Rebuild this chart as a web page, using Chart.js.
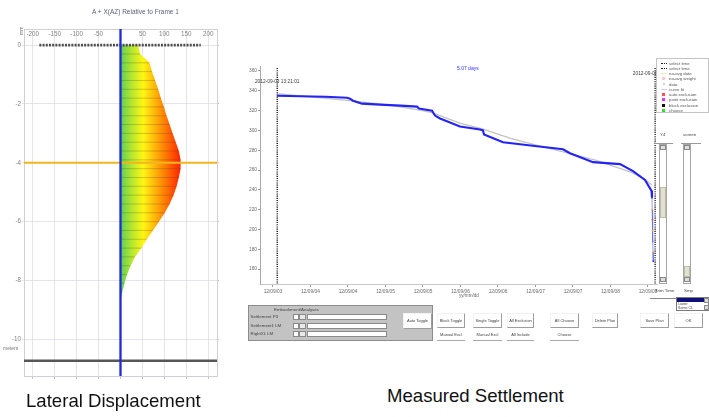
<!DOCTYPE html>
<html>
<head>
<meta charset="utf-8">
<script src="https://cdn.jsdelivr.net/npm/chart.js@4.4.1/dist/chart.umd.min.js"></script>
<style>
  html, body { margin:0; padding:0; background:#fff; width:709px; height:417px; overflow:hidden;
    font-family:"Liberation Sans", Arial, sans-serif; }
  canvas { position:absolute; }
  #lat { left:0; top:0; }
  #set { left:240px; top:55px; }
  .abs { position:absolute; white-space:nowrap; }
  .cap { font-size:18.6px; color:#111; line-height:1; }
  .tiny { font-size:4.4px; color:#444; line-height:1; }
  .small { font-size:6.5px; color:#5b6377; line-height:1; }
  #legend { left:656px; top:58px; width:53px; height:55px; border:1px solid #c4c4c4; background:#fff;
    box-sizing:border-box; padding-top:1.5px; }
  .li { position:relative; height:5.25px; line-height:5.25px; font-size:4.3px; color:#555; padding-left:12px; }
  .mk { position:absolute; left:4px; }
  .mk.dash { top:2.2px; width:6px; height:0; border-top:1px dotted #222; }
  .mk.ln { top:2.3px; width:6px; height:0.8px; }
  .mk.sq { top:1.2px; width:3px; height:3px; left:5px; }
  .mk.ci { top:0.8px; width:3.4px; height:3.4px; left:5px; border-radius:50%; box-sizing:border-box; border:0.8px solid #f29a9a; }
  .panel { left:248px; top:305px; width:185px; height:36px; background:#c3c3c3; border:1px solid #8d8d8d; box-sizing:border-box; }
  .btn { position:absolute; background:#fff; border-right:1px solid #9d9d9d; border-bottom:1px solid #9d9d9d;
    border-top:1px solid #f2f2f2; border-left:1px solid #f2f2f2; box-sizing:border-box;
    font-size:4px; color:#444; text-align:center; }
  .flat { position:absolute; background:#fff; border-bottom:1px solid #a9a9a9; box-sizing:border-box;
    font-size:4px; color:#444; text-align:center; }
  .field { position:absolute; background:#fff; border:1px solid #8a8a8a; box-sizing:border-box; }
  .spin { position:absolute; background:#e9e9e9; border:1px solid #8a8a8a; box-sizing:border-box; }
  .track { position:absolute; background:#fff; border:1px solid #a5a5a5; box-sizing:border-box; }
  .thumb { position:absolute; background:#e2e1cf; border:1px solid #bdbcaa; box-sizing:border-box; }
  .arr { position:absolute; background:#dcdcdc; border:1px solid #8a8a8a; box-sizing:border-box; }
</style>
</head>
<body>
<canvas id="lat" width="230" height="385"></canvas>
<canvas id="set" width="430" height="245"></canvas>

<!-- lateral displacement annotations -->
<div class="abs small" style="left:92px;top:8.5px;">A + X(AZ) Relative to Frame 1</div>
<div class="abs tiny" style="left:18.5px;top:35px;font-size:5px;color:#777;transform:rotate(-90deg);transform-origin:left top;">mm</div>
<div class="abs tiny" style="left:3px;top:345.5px;font-size:5px;color:#777;">meters</div>
<div class="abs cap" style="left:26px;top:392px;">Lateral Displacement</div>

<!-- settlement annotations -->
<div class="abs tiny" style="left:457px;top:66px;font-size:5px;color:#2d2dff;">5.07 days</div>
<div class="abs tiny" style="left:459px;top:294px;font-size:4.6px;color:#666;">yy/mm/dd</div>
<div class="abs cap" style="left:387px;top:386.5px;">Measured Settlement</div>

<div id="legend" class="abs">
  <div class="li"><span class="mk dash"></span>select time</div>
  <div class="li"><span class="mk dash"></span>select time</div>
  <div class="li"><span class="mk ln" style="background:#f6f0b0;"></span>no-avg date</div>
  <div class="li"><span class="mk ci"></span>no-avg weight</div>
  <div class="li"><span class="mk sq" style="background:#c9cdf5;width:2px;height:2px;top:1.6px;left:5.5px;"></span>data</div>
  <div class="li"><span class="mk ln" style="background:#cfcfcf;"></span>curve fit</div>
  <div class="li"><span class="mk sq" style="background:#ff5050;"></span>auto exclusion</div>
  <div class="li"><span class="mk sq" style="background:#f030f0;"></span>point exclusion</div>
  <div class="li"><span class="mk sq" style="background:#111;"></span>block exclusion</div>
  <div class="li"><span class="mk sq" style="background:#33dd33;"></span>choose</div>
</div>

<!-- trim sliders -->
<div class="abs tiny" style="left:660px;top:133px;">Y4</div>
<div class="abs tiny" style="left:683px;top:133px;">screen</div>
<div class="abs" style="left:655px;top:142.5px;width:18px;height:0;border-top:1px solid #9a9a9a;"></div>
<div class="abs" style="left:681px;top:142.5px;width:20px;height:0;border-top:1px solid #9a9a9a;"></div>
<div class="track" style="left:659px;top:144px;width:8px;height:140px;"></div>
<div class="arr" style="left:660px;top:145px;width:6px;height:5px;"></div>
<div class="arr" style="left:660px;top:277px;width:6px;height:5px;"></div>
<div class="thumb" style="left:660px;top:187px;width:6px;height:31px;"></div>
<div class="track" style="left:683px;top:144px;width:8px;height:140px;"></div>
<div class="arr" style="left:684px;top:145px;width:6px;height:5px;"></div>
<div class="arr" style="left:684px;top:277px;width:6px;height:5px;"></div>
<div class="thumb" style="left:684px;top:266px;width:6px;height:11px;"></div>
<div class="abs tiny" style="left:655px;top:289px;">Trim Time</div>
<div class="abs tiny" style="left:684px;top:289px;">Smp</div>
<div class="abs" style="left:650px;top:297.5px;width:26px;height:0;border-top:1px solid #8a8a8a;"></div>
<div class="abs" style="left:676px;top:297px;width:33px;height:14px;background:#fff;border:1px solid #7a7a7a;box-sizing:border-box;">
  <div style="position:absolute;left:0;top:0;width:27px;height:4px;background:#10107a;"></div>
  <div class="tiny" style="position:absolute;left:1px;top:5px;font-size:3.6px;">Lower</div>
  <div class="tiny" style="position:absolute;left:1px;top:8.5px;font-size:3.6px;">Some CL</div>
  <div class="arr" style="left:27px;top:0;width:5px;height:5px;"></div>
  <div class="arr" style="left:27px;top:7px;width:5px;height:5px;"></div>
</div>

<!-- control panel -->
<div class="abs panel">
  <div class="tiny" style="position:absolute;left:25px;top:1.5px;">Embankment/Analyses</div>
  <div class="tiny" style="position:absolute;left:1.5px;top:9px;">Settlement P3</div>
  <div class="tiny" style="position:absolute;left:1.5px;top:17.5px;">Settlement1 LM</div>
  <div class="tiny" style="position:absolute;left:1.5px;top:26px;">RightXL LM</div>
  <div class="spin" style="left:44px;top:8px;width:6px;height:6px;background:#fff;"></div>
  <div class="spin" style="left:50px;top:8px;width:7px;height:6px;"></div>
  <div class="field" style="left:58px;top:8px;width:80px;height:6px;"></div>
  <div class="spin" style="left:44px;top:16.5px;width:6px;height:6px;background:#fff;"></div>
  <div class="spin" style="left:50px;top:16.5px;width:7px;height:6px;"></div>
  <div class="field" style="left:58px;top:16.5px;width:80px;height:6px;"></div>
  <div class="spin" style="left:44px;top:25px;width:6px;height:6px;background:#fff;"></div>
  <div class="spin" style="left:50px;top:25px;width:7px;height:6px;"></div>
  <div class="field" style="left:58px;top:25px;width:80px;height:6px;"></div>
</div>

<div class="btn" style="left:403px;top:313px;width:29px;height:16px;line-height:14px;">Auto Toggle</div>
<div class="btn" style="left:437px;top:313px;width:28px;height:15px;line-height:13px;">Block Toggle</div>
<div class="flat" style="left:437px;top:331px;width:28px;height:10px;line-height:8px;">Manual Excl</div>
<div class="btn" style="left:473px;top:313px;width:29px;height:15px;line-height:13px;">Single Toggle</div>
<div class="flat" style="left:473px;top:331px;width:29px;height:10px;line-height:8px;">Manual Excl</div>
<div class="btn" style="left:507px;top:313px;width:27px;height:15px;line-height:13px;">All Exclusion</div>
<div class="flat" style="left:507px;top:331px;width:27px;height:10px;line-height:8px;">All Include</div>
<div class="btn" style="left:550px;top:313px;width:29px;height:15px;line-height:13px;">All Choose</div>
<div class="flat" style="left:550px;top:331px;width:29px;height:10px;line-height:8px;">Choose</div>
<div class="btn" style="left:592px;top:313px;width:26px;height:15px;line-height:13px;">Delete Plan</div>
<div class="btn" style="left:640px;top:313px;width:29px;height:15px;line-height:13px;">Save Plan</div>
<div class="btn" style="left:674px;top:313px;width:29px;height:15px;line-height:13px;">OK</div>

<script>
// ---- Inclinometer profile (depth in metres, displacement in mm) ----
const depths = [0, -0.3, -0.6, -0.9, -1.2, -1.5, -1.8, -2.1, -2.4, -2.7, -3.0, -3.3, -3.6, -3.9, -4.2,
                -4.5, -4.8, -5.1, -5.4, -5.7, -6.0, -6.3, -6.6, -6.9, -7.2, -7.5, -7.8, -8.1, -8.4, -8.7];
const displacementMm = [40, 45, 66, 72, 79, 86, 92, 99, 105, 112, 119, 126, 133, 137, 137,
                        133, 128, 121, 112, 101, 88, 74, 60, 48, 33, 23, 15, 9, 4, 0];
const surfaceSpanMm = [-185, 183];   // reference reading drawn at the surface
const cursorDepth = [-4];            // selected depth
const baseDepth = [-10.73];          // bottom of casing
const depthTicks = [0, -2, -4, -6, -8, -10];
const mmTicks = [-200, -150, -100, -50, 0, 50, 100, 150, 200];

// ---- Settlement record (day of Sept 2012, reading) ----
const settleDays   = [3.556, 3.86, 4.2, 4.487, 4.527, 4.567, 4.687, 4.927, 5.2, 5.42, 5.447, 5.62, 5.66,
                      5.727, 5.993, 6.26, 6.3, 6.313, 6.567, 7.02, 7.367, 7.46, 7.767, 8.127, 8.3, 8.46, 8.547, 8.553];
const settleValues = [335, 334.5, 334, 333, 332, 330, 327, 326, 325, 324, 322, 320, 315,
                      312, 304, 301, 300, 296, 288, 284, 281, 277, 268, 266, 259, 250, 239, 232];
const tailDays   = [8.553, 8.556, 8.559, 8.562, 8.565, 8.568, 8.57];
const tailValues = [232, 220, 210, 199, 188, 177, 168];
const fitDays   = [3.556, 4.527, 5.0, 5.42, 5.62, 6.0, 6.27, 6.67, 7.02, 7.33, 7.8, 8.27, 8.47, 8.553];
const fitValues = [337, 330, 326, 321, 318, 307, 302, 292, 285, 279, 270, 258, 250, 245];
const selectTimes  = [3.5563, 8.595];
const selectStamps = ['2012-09-03 13:21:01', '2012-09-08 14:16:49'];
const valueTicks = [360, 340, 320, 300, 280, 260, 240, 220, 200, 180, 160];
const dayTicks = [3.5, 4, 4.5, 5, 5.5, 6, 6.5, 7, 7.5, 8, 8.5];

const FONT = '"Liberation Sans", Arial, sans-serif';
Chart.defaults.font.family = FONT;

// ===== Lateral displacement =====
const latMin = { x: -220, y: -11.25 }, latMax = { x: 220, y: 0.55 };
const profile = depths.map((d, i) => ({ x: displacementMm[i], y: d }));
const rungs = [];
depths.forEach((d, i) => {
  if (displacementMm[i] > 0) rungs.push({ x: 0, y: d }, { x: displacementMm[i], y: d }, { x: null, y: d });
});

function profileFill(ctx) {
  const chart = ctx.chart;
  if (!chart.chartArea) return 'rgba(0,0,0,0)';
  const sx = chart.scales.x;
  const g = chart.ctx.createLinearGradient(sx.getPixelForValue(0), 0, sx.getPixelForValue(140), 0);
  g.addColorStop(0.00, '#5ccf55');
  g.addColorStop(0.18, '#b4e631');
  g.addColorStop(0.37, '#fff614');
  g.addColorStop(0.64, '#ff9a06');
  g.addColorStop(1.00, '#ff1c00');
  return g;
}

const latGrid = '#dcdde7';
new Chart(document.getElementById('lat'), {
  type: 'line',
  data: {
    datasets: [
      { label: 'casing', data: [{ x: 0, y: latMax.y }, { x: 0, y: latMin.y }], borderColor: '#1e2cd6', borderWidth: 2.3 },
      { label: 'reference', data: surfaceSpanMm.map(v => ({ x: v, y: 0 })), borderColor: '#4e4e4e', borderWidth: 2.6, borderDash: [2, 1.2] },
      { label: 'base', data: [{ x: latMin.x, y: baseDepth[0] }, { x: latMax.x, y: baseDepth[0] }], borderColor: '#575757', borderWidth: 2.6 },
      { label: 'cursor', data: [{ x: latMin.x, y: cursorDepth[0] }, { x: latMax.x, y: cursorDepth[0] }], borderColor: '#f3b51c', borderWidth: 2 },
      { label: 'readings', data: rungs, borderColor: 'rgba(70,60,20,0.35)', borderWidth: 0.7, spanGaps: false },
      { label: 'profile', data: profile, borderWidth: 0, borderColor: 'rgba(0,0,0,0)', fill: { value: 0 }, backgroundColor: profileFill }
    ]
  },
  options: {
    indexAxis: 'y',
    responsive: false, animation: false, devicePixelRatio: 1,
    layout: { padding: 0 },
    elements: { point: { radius: 0 }, line: { tension: 0 } },
    plugins: { legend: { display: false }, tooltip: { enabled: false } },
    scales: {
      x: {
        type: 'linear', position: 'top', min: latMin.x, max: latMax.x,
        afterBuildTicks: s => { s.ticks = mmTicks.map(v => ({ value: v })); },
        ticks: { color: '#858585', font: { size: 6.3 }, padding: 1, mirror: true, maxRotation: 0, autoSkip: false,
                 callback: v => (v === 0 ? '' : v) },
        grid: { color: latGrid, lineWidth: 0.8, drawTicks: false },
        border: { color: '#cfd0d8' },
        afterFit: s => { s.height = 29; }
      },
      y: {
        type: 'linear', min: latMin.y, max: latMax.y,
        afterBuildTicks: s => { s.ticks = depthTicks.map(v => ({ value: v })); },
        ticks: { color: '#858585', font: { size: 6.3 }, padding: 1 },
        grid: { color: latGrid, lineWidth: 0.8, tickLength: 2 },
        border: { color: '#cfd0d8' },
        afterFit: s => { s.width = 24; }
      },
      x2: {
        type: 'linear', axis: 'x', position: 'bottom', min: latMin.x, max: latMax.x,
        afterBuildTicks: s => { s.ticks = mmTicks.map(v => ({ value: v })); },
        ticks: { display: false },
        grid: { drawOnChartArea: false, tickLength: 3, color: '#bfc0c8' },
        border: { color: '#cfd0d8' },
        afterFit: s => { s.height = 9; }
      },
      y2: {
        type: 'linear', axis: 'y', position: 'right', min: latMin.y, max: latMax.y,
        afterBuildTicks: s => { s.ticks = depthTicks.map(v => ({ value: v })); },
        ticks: { display: false },
        grid: { drawOnChartArea: false, tickLength: 2, color: '#bfc0c8' },
        border: { color: '#cfd0d8' },
        afterFit: s => { s.width = 13; }
      }
    }
  }
});

// ===== Measured settlement =====
const setMin = { x: 3.3267, y: 145 }, setMax = { x: 8.62, y: 365 };
const pts = (xs, ys) => xs.map((x, i) => ({ x, y: ys[i] }));
const tailColors = ['#4a5cf0', '#f09a3a', '#e0533a', '#f0a040', '#7a7af0', '#f08a3a', '#2a3af0'];

const stampPlugin = {
  id: 'selectStamps',
  afterDatasetsDraw(chart) {
    const { ctx, chartArea, scales: { x } } = chart;
    const drops = [16, 8];
    ctx.save();
    ctx.font = '4.8px ' + FONT;
    ctx.fillStyle = '#3a3a3a';
    ctx.textAlign = 'center';
    ctx.textBaseline = 'middle';
    selectTimes.forEach((t, i) => ctx.fillText(selectStamps[i], x.getPixelForValue(t), chartArea.top + drops[i]));
    ctx.restore();
  }
};

new Chart(document.getElementById('set'), {
  type: 'line',
  data: {
    datasets: [
      { label: 'select time', data: [{ x: selectTimes[0], y: setMax.y - 2 }, { x: selectTimes[0], y: setMin.y - 1 }],
        borderColor: '#1a1a1a', borderWidth: 1.4, borderDash: [1.1, 1.1] },
      { label: 'select time', data: [{ x: selectTimes[1], y: setMax.y - 2 }, { x: selectTimes[1], y: setMin.y - 1 }],
        borderColor: '#1a1a1a', borderWidth: 1.4, borderDash: [1.1, 1.1] },
      { label: 'data', data: pts(settleDays, settleValues), borderColor: '#2424f2', borderWidth: 2.1 },
      { label: 'data tail', data: pts(tailDays, tailValues), borderColor: 'rgba(90,100,235,0.7)', borderWidth: 0.9,
        pointRadius: 0.9, pointBackgroundColor: tailColors, pointBorderWidth: 0 },
      { label: 'curve fit', data: pts(fitDays, fitValues), borderColor: '#c3c3c3', borderWidth: 1.3 }
    ]
  },
  options: {
    responsive: false, animation: false, devicePixelRatio: 1,
    layout: { padding: { left: 0, right: 13, top: 11, bottom: 0 } },
    elements: { point: { radius: 0 }, line: { tension: 0 } },
    plugins: { legend: { display: false }, tooltip: { enabled: false } },
    scales: {
      x: {
        type: 'linear', min: setMin.x, max: setMax.x,
        afterBuildTicks: s => { s.ticks = dayTicks.map(v => ({ value: v })); },
        ticks: { color: '#6a6a6a', font: { size: 4.8 }, padding: 1.5, maxRotation: 0, autoSkip: false,
                 callback: v => '12/09/' + String(Math.floor(v)).padStart(2, '0') },
        grid: { drawOnChartArea: false, tickLength: 3, color: '#9a9a9a' },
        border: { color: '#c9c9c9' },
        afterFit: s => { s.height = 16; }
      },
      y: {
        type: 'linear', min: setMin.y, max: setMax.y,
        afterBuildTicks: s => { s.ticks = valueTicks.map(v => ({ value: v })); },
        ticks: { color: '#6a6a6a', font: { size: 4.8 }, padding: 1 },
        grid: { drawOnChartArea: false, tickLength: 2, color: '#9a9a9a' },
        border: { color: '#a9a9a9' },
        afterFit: s => { s.width = 20; }
      }
    }
  },
  plugins: [stampPlugin]
});
</script>
</body>
</html>
